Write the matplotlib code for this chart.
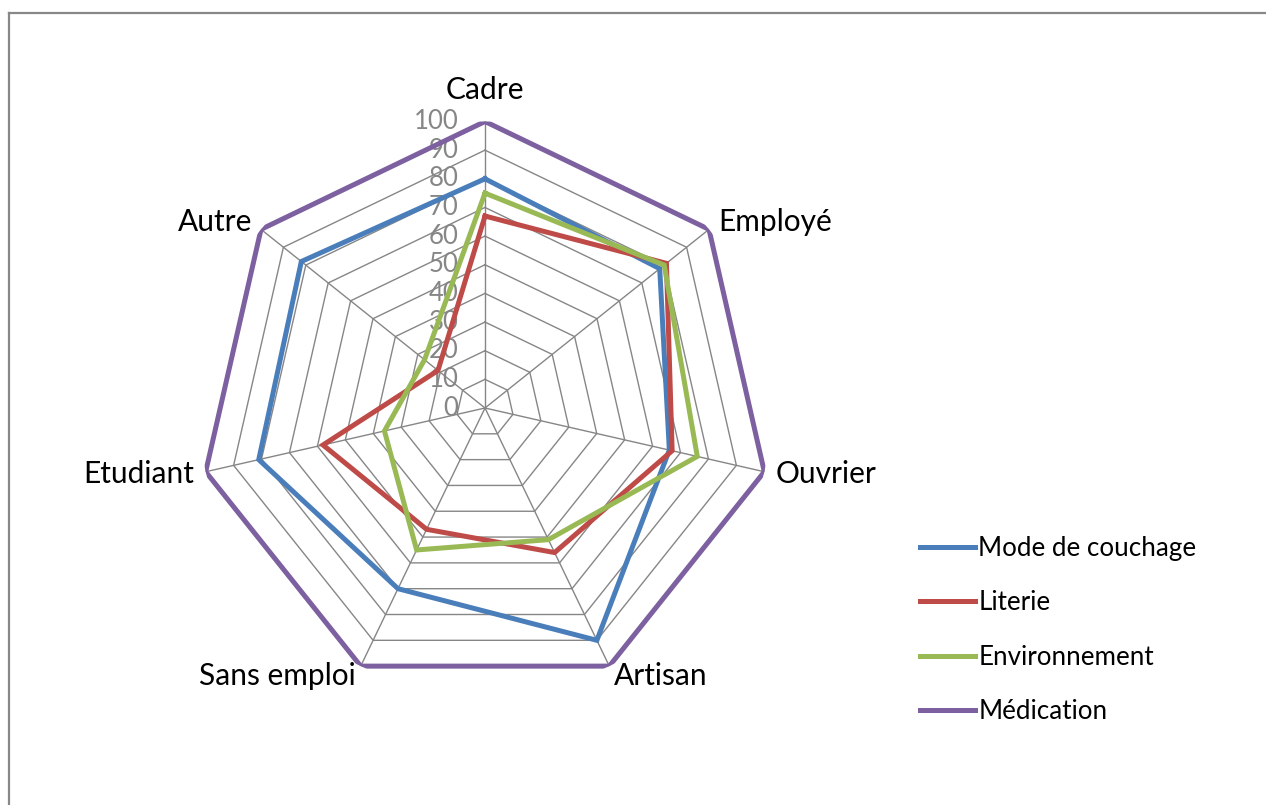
import numpy as np
import matplotlib.pyplot as plt
from matplotlib.lines import Line2D

plt.rcParams['font.family'] = ['Lato', 'DejaVu Sans']

categories = ['Cadre', 'Employé', 'Ouvrier', 'Artisan', 'Sans emploi', 'Etudiant', 'Autre']
mode_couchage = [80, 78, 66, 90, 70, 81, 82]
literie = [67, 81, 67, 56, 47, 58, 21]
environnement = [75, 80, 76, 51, 55, 36, 27]
medication = [100, 100, 100, 100, 100, 100, 100]
series_names = ['Mode de couchage', 'Literie', 'Environnement', 'Médication']
series_colors = ['#4A7EBB', '#BE4B48', '#98B954', '#7D60A0']
r_ticks = [0, 10, 20, 30, 40, 50, 60, 70, 80, 90, 100]

W, H = 1266, 805
fig = plt.figure(figsize=(W / 100, H / 100), dpi=100)

# polar axes placed so that centre is at (485, 408) px and r=100 -> 286.5 px
cx, cy, R = 485, 408, 286.5
ax = fig.add_axes([(cx - R) / W, (H - cy - R) / H, 2 * R / W, 2 * R / H], projection='polar')
ax.set_theta_zero_location('N')
ax.set_theta_direction(-1)
ax.set_ylim(0, 100)
ax.grid(False)
ax.set_xticks([])
ax.set_yticks([])
ax.spines['polar'].set_visible(False)
ax.patch.set_alpha(0)

n = len(categories)
theta = np.linspace(0, 2 * np.pi, n, endpoint=False)
theta_c = np.append(theta, theta[0])

grid_col = '#868686'
# polygon grid
for r in r_ticks[1:]:
    ax.plot(theta_c, [r] * (n + 1), color=grid_col, lw=1.0, zorder=1)
# spokes
for t in theta:
    ax.plot([t, t], [0, 100], color=grid_col, lw=1.0, zorder=1)

# series
for vals, name, col in zip([mode_couchage, literie, environnement, medication],
                           series_names, series_colors):
    v = list(vals) + [vals[0]]
    ax.plot(theta_c, v, color=col, lw=3.6, label=name, zorder=3,
            solid_joinstyle='miter')

# radial tick labels
for r in r_ticks:
    ax.annotate(str(r), xy=(0, r), xytext=(-19, 0), textcoords='offset points',
                ha='right', va='center', fontsize=18.5, color='#868686', zorder=2)

# category labels
for t, lab in zip(theta, categories):
    s = np.sin(t)
    if abs(s) < 1e-6:
        ax.text(t, 111, lab, ha='center', va='center', fontsize=21.5)
    elif s > 0:
        ax.text(t, 104, lab, ha='left', va='center', fontsize=21.5)
    else:
        ax.text(t, 104, lab, ha='right', va='center', fontsize=21.5)

fig.legend(loc='center left', bbox_to_anchor=(920 / W, 1 - 630 / H),
           frameon=False, fontsize=18.7, handlelength=2.1, handletextpad=0.15,
           labelspacing=1.13, borderpad=0, borderaxespad=0)

# outer frame (only top and left visible in the original)
fig.add_artist(Line2D([9 / W, 9 / W], [0, 1 - 13 / H], color='#888888', lw=1.6,
                      transform=fig.transFigure))
fig.add_artist(Line2D([9 / W, 1], [1 - 13 / H, 1 - 13 / H], color='#888888', lw=1.6,
                      transform=fig.transFigure))

fig.savefig('out.png', dpi=100)
